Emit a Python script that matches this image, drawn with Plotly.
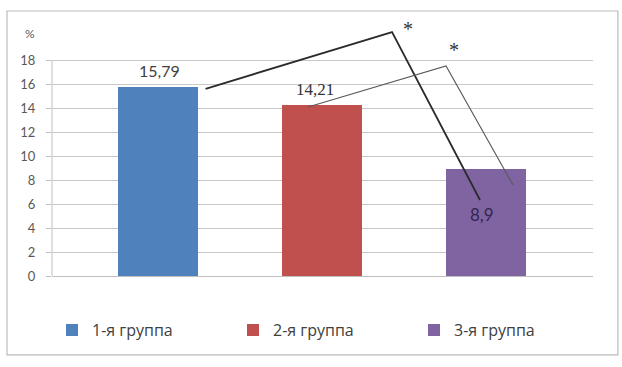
import plotly.graph_objects as go

# Share of patients per group, %
groups = ["1-я группа", "2-я группа", "3-я группа"]
values = [15.79, 14.21, 8.9]
colors = ["#4F81BD", "#C0504D", "#8064A2"]

# Y axis ticks
y_ticks = [0, 2, 4, 6, 8, 10, 12, 14, 16, 18]

# Significance brackets (x in category units, y in %)
bracket1_x = [0.29, 1.427, 1.963]
bracket1_y = [15.6, 20.33, 6.33]
bracket2_x = [0.915, 1.756, 2.165]
bracket2_y = [14.08, 17.5, 7.58]
stars_x = [1.525, 1.805]
stars_y = [20.55, 18.85]


def fmt(v):
    return f"{v:g}".replace(".", ",")


fig = go.Figure()

for i, (g, v, c) in enumerate(zip(groups, values, colors)):
    fig.add_trace(go.Bar(
        x=[i], y=[v], name=g, marker=dict(color=c, line=dict(width=0)),
        width=0.49, showlegend=True,
    ))

fig.add_trace(go.Scatter(
    x=bracket1_x, y=bracket1_y, mode="lines",
    line=dict(color="#2b2b2b", width=1.8), showlegend=False, hoverinfo="skip",
))
fig.add_trace(go.Scatter(
    x=bracket2_x, y=bracket2_y, mode="lines",
    line=dict(color="#595959", width=1.1), showlegend=False, hoverinfo="skip",
))

# Value labels
fig.add_annotation(x=0, y=values[0], text=fmt(values[0]), showarrow=False,
                   yanchor="bottom", yshift=5, xshift=2,
                   font=dict(family="Lato, Open Sans", size=16, color="#404040"))
fig.add_annotation(x=1, y=values[1], text=fmt(values[1]), showarrow=False,
                   yanchor="bottom", yshift=4, xshift=-7,
                   font=dict(family="Liberation Serif", size=17, color="#333333"))
fig.add_annotation(x=2, y=values[2], text=fmt(values[2]), showarrow=False,
                   yanchor="middle", yshift=-45, xshift=-4,
                   font=dict(family="Lato, Open Sans", size=17, color="#35264f"))

for sx, sy in zip(stars_x, stars_y):
    fig.add_annotation(x=sx, y=sy, text="*", showarrow=False,
                       font=dict(family="Liberation Serif", size=20, color="#333333"))

# Unit label above the axis
fig.add_annotation(xref="paper", yref="paper", x=-0.04, y=0.918, text="%",
                   showarrow=False, xanchor="center", yanchor="middle",
                   font=dict(family="Lato, Open Sans", size=12, color="#595959"))

# Vertical axis line up to the top gridline
fig.add_shape(type="line", xref="x domain", yref="y", x0=0, x1=0,
              y0=y_ticks[0], y1=y_ticks[-1], line=dict(color="#bfbfbf", width=1))

# Outer chart border
fig.add_shape(type="rect", xref="paper", yref="paper",
              x0=-0.0832, x1=1.046, y0=-0.299, y1=1.0038,
              line=dict(color="#bcbcbc", width=1.2), layer="below")

fig.update_layout(
    width=622, height=367,
    margin=dict(l=52, r=29, t=12, b=91),
    paper_bgcolor="white", plot_bgcolor="white",
    bargap=0,
    xaxis=dict(range=[-0.646, 2.652], showticklabels=False, showgrid=False,
               zeroline=False, showline=True, linecolor="#bfbfbf", ticks=""),
    yaxis=dict(range=[0, 22], tickvals=y_ticks, ticktext=[str(t) for t in y_ticks],
               showgrid=True, gridcolor="#c8c8c8", gridwidth=1, zeroline=False,
               showline=False, ticks="outside", ticklen=5, tickcolor="#bfbfbf",
               ticklabelstandoff=8,
               tickfont=dict(family="Lato, Open Sans", size=13, color="#595959")),
    legend=dict(orientation="h", x=0.0, y=-0.205,
                xanchor="left", yanchor="middle",
                entrywidth=136, entrywidthmode="pixels",
                font=dict(family="Open Sans", size=16, color="#404040"),
                itemclick=False, bgcolor="rgba(0,0,0,0)"),
    showlegend=True,
)

fig.write_html("out.html")
